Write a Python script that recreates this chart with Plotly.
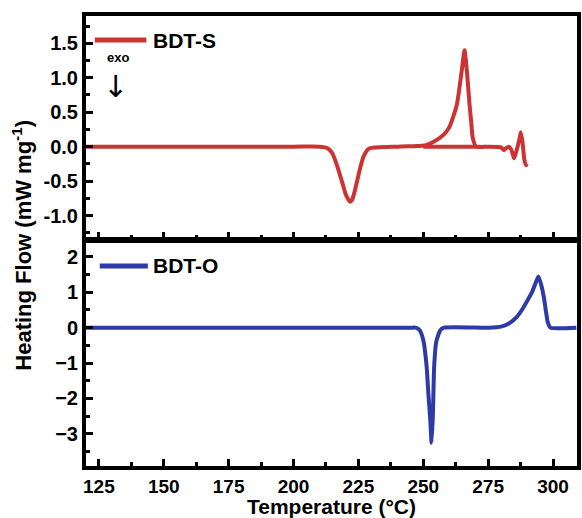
import plotly.graph_objects as go

# BDT-S (top panel)
s_temp = [120, 200, 210, 213, 215, 217, 219, 220, 221, 221.8, 222.6, 223.5, 224.5, 225.5, 227, 229, 240,
          248, 251, 254, 257.8, 260, 261.5, 263, 264, 265, 265.9, 266.8, 267.8, 268.5, 269.1, 270.4, 275,
          280, 281, 282, 283, 284, 285, 286, 287, 287.6, 288.3, 289, 289.6, 290]
s_flow = [0, 0, 0, -0.02, -0.1, -0.3, -0.55, -0.68, -0.76, -0.8, -0.77, -0.66, -0.5, -0.34, -0.14, -0.03, 0,
          0.01, 0.02, 0.07, 0.17, 0.28, 0.43, 0.62, 0.87, 1.15, 1.4, 1.1, 0.63, 0.35, 0.12, 0, 0,
          -0.01, -0.05, -0.02, 0, -0.05, -0.17, -0.05, 0.1, 0.21, 0.05, -0.2, -0.27, -0.25]
s_base_temp = [250, 272]
s_base_flow = [0, 0]

# BDT-O (bottom panel)
o_temp = [120, 245, 247, 248.5, 250, 251.3, 252.0, 252.7, 253.2, 253.7, 254.2, 255.0, 256.5, 258,
          275, 280, 283, 286, 288, 290, 292, 293.5, 294.4, 295.5, 296.5, 297.3, 298, 299, 309]
o_flow = [0, 0, 0, -0.06, -0.35, -1.1, -1.9, -2.6, -3.25, -2.5, -1.1, -0.4, -0.08, 0,
          0, 0.03, 0.12, 0.3, 0.5, 0.75, 1.02, 1.3, 1.45, 1.2, 0.85, 0.45, 0.15, 0, 0]

x_ticks = [125, 150, 175, 200, 225, 250, 275, 300]
top_y_ticks = [-1.0, -0.5, 0.0, 0.5, 1.0, 1.5]
top_y_labels = ["-1.0", "-0.5", "0.0", "0.5", "1.0", "1.5"]
bot_y_ticks = [-3, -2, -1, 0, 1, 2]

RED = "#CC3434"
BLUE = "#2E3BA6"
FONT = "Liberation Sans, Arial, sans-serif"

fig = go.Figure()
fig.add_trace(go.Scatter(x=s_temp, y=s_flow, mode="lines", line=dict(color=RED, width=4, shape="spline", smoothing=0.6),
                         xaxis="x", yaxis="y", showlegend=False))
fig.add_trace(go.Scatter(x=s_base_temp, y=s_base_flow, mode="lines", line=dict(color=RED, width=4),
                         xaxis="x", yaxis="y", showlegend=False))
fig.add_trace(go.Scatter(x=o_temp, y=o_flow, mode="lines", line=dict(color=BLUE, width=4, shape="spline", smoothing=0.5),
                         xaxis="x2", yaxis="y2", showlegend=False))

tickfont = dict(family=FONT, size=19, color="black", weight="bold")
ytickfont = dict(family=FONT, size=20, color="black", weight="bold")
common_x = dict(range=[120.03, 309.25], tickvals=x_ticks, ticks="inside", ticklen=7, tickwidth=3,
                tickcolor="black", showline=True, linewidth=4, linecolor="black", mirror=True,
                showgrid=False, zeroline=False,
                minor=dict(dtick=12.5, tick0=125, ticks="inside", ticklen=4, tickwidth=3, tickcolor="black"))
common_y = dict(ticks="inside", ticklen=7, tickwidth=3, tickcolor="black", showline=True, linewidth=4,
                linecolor="black", mirror=True, showgrid=False, zeroline=False, tickfont=ytickfont)

fig.update_layout(
    width=582, height=518,
    margin=dict(l=86, r=1, t=16, b=52),
    paper_bgcolor="white", plot_bgcolor="white",
    xaxis=dict(**common_x, domain=[0, 1], anchor="y", showticklabels=False),
    yaxis=dict(**common_y, domain=[0.504, 1], range=[-1.344, 1.897], tickvals=top_y_ticks,
               ticktext=top_y_labels,
               minor=dict(dtick=0.25, tick0=0, ticks="inside", ticklen=4, tickwidth=3, tickcolor="black")),
    xaxis2=dict(**common_x, domain=[0, 1], anchor="y2", tickfont=tickfont,
                title=dict(text="Temperature (°C)", font=dict(family=FONT, size=21, color="black", weight="bold"),
                           standoff=4)),
    yaxis2=dict(**common_y, domain=[0, 0.5], range=[-3.91, 2.45], tickvals=bot_y_ticks,
                minor=dict(dtick=0.5, tick0=0, ticks="inside", ticklen=4, tickwidth=3, tickcolor="black")),
)

# legends
fig.add_shape(type="line", xref="x domain", yref="y domain", x0=0.018, x1=0.123, y0=0.892, y1=0.892,
              line=dict(color=RED, width=5))
fig.add_annotation(xref="x domain", yref="y domain", x=0.132, y=0.892, text="BDT-S", showarrow=False,
                   xanchor="left", yanchor="middle", font=dict(family=FONT, size=21, color="black", weight="bold"))
fig.add_shape(type="line", xref="x2 domain", yref="y2 domain", x0=0.028, x1=0.126, y0=0.889, y1=0.889,
              line=dict(color=BLUE, width=5))
fig.add_annotation(xref="x2 domain", yref="y2 domain", x=0.132, y=0.889, text="BDT-O", showarrow=False,
                   xanchor="left", yanchor="middle", font=dict(family=FONT, size=21, color="black", weight="bold"))

# exo marker
fig.add_annotation(xref="x domain", yref="y domain", x=0.065, y=0.815, text="exo", showarrow=False,
                   xanchor="center", yanchor="middle", font=dict(family=FONT, size=13, color="black", weight="bold"))
fig.add_annotation(xref="x domain", yref="y domain", x=0.061, y=0.685, text="↓", showarrow=False,
                   xanchor="center", yanchor="middle", font=dict(family="DejaVu Sans", size=30, color="black"))

# y title
fig.add_annotation(xref="paper", yref="paper", x=-0.132, y=0.49, text="Heating Flow (mW mg<sup>-1</sup>)",
                   textangle=-90, showarrow=False, xanchor="center", yanchor="middle",
                   font=dict(family=FONT, size=22, color="black", weight="bold"))

fig.write_html("out.html")
